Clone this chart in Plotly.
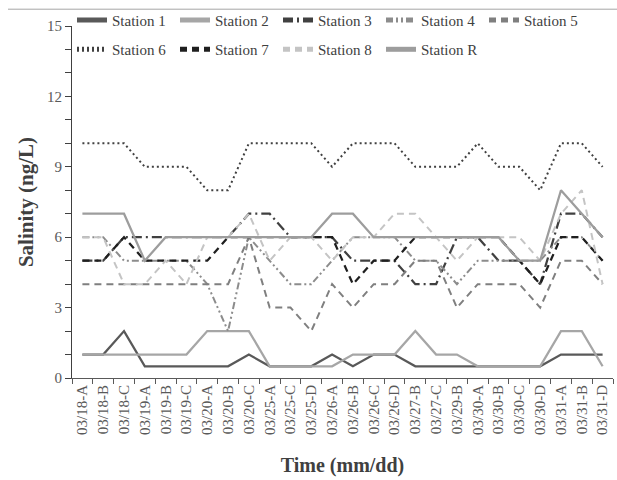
import plotly.graph_objects as go

# Sampling times (date + sample letter)
times = ["03/18-A", "03/18-B", "03/18-C", "03/19-A", "03/19-B", "03/19-C",
         "03/20-A", "03/20-B", "03/20-C", "03/25-A", "03/25-C", "03/25-D",
         "03/26-A", "03/26-B", "03/26-C", "03/26-D", "03/27-B", "03/27-C",
         "03/29-B", "03/30-A", "03/30-B", "03/30-C", "03/30-D", "03/31-A",
         "03/31-B", "03/31-D"]

# Salinity per station (ng/L)
station_1 = [1, 1, 2, 0.5, 0.5, 0.5, 0.5, 0.5, 1, 0.5, 0.5, 0.5, 1, 0.5, 1, 1,
             0.5, 0.5, 0.5, 0.5, 0.5, 0.5, 0.5, 1, 1, 1]
station_2 = [1, 1, 1, 1, 1, 1, 2, 2, 2, 0.5, 0.5, 0.5, 0.5, 1, 1, 1,
             2, 1, 1, 0.5, 0.5, 0.5, 0.5, 2, 2, 0.5]
station_3 = [5, 5, 6, 6, 6, 6, 6, 6, 7, 7, 6, 6, 6, 5, 5, 5,
             4, 4, 6, 6, 5, 5, 4, 7, 7, 6]
station_4 = [6, 6, 5, 5, 5, 5, 4, 2, 6, 5, 4, 4, 5, 6, 6, 6,
             5, 5, 4, 5, 5, 5, 5, 6, 6, 5]
station_5 = [4, 4, 4, 4, 4, 4, 4, 4, 6, 3, 3, 2, 4, 3, 4, 4,
             5, 5, 3, 4, 4, 4, 3, 5, 5, 4]
station_6 = [10, 10, 10, 9, 9, 9, 8, 8, 10, 10, 10, 10, 9, 10, 10, 10,
             9, 9, 9, 10, 9, 9, 8, 10, 10, 9]
station_7 = [5, 5, 6, 5, 5, 5, 5, 6, 6, 6, 6, 6, 6, 4, 5, 5,
             6, 6, 6, 6, 6, 5, 4, 6, 6, 5]
station_8 = [6, 6, 4, 4, 5, 4, 6, 6, 7, 5, 6, 6, 5, 6, 6, 7,
             7, 6, 5, 6, 6, 6, 5, 7, 8, 4]
station_r = [7, 7, 7, 5, 6, 6, 6, 6, 6, 6, 6, 6, 7, 7, 6, 6,
             6, 6, 6, 6, 6, 5, 5, 8, 7, 6]

y_ticks = [0, 3, 6, 9, 12, 15]

series = [
    ("Station 1", station_1, "#595959", "solid", 2.25, "legend"),
    ("Station 2", station_2, "#a6a6a6", "solid", 2.25, "legend"),
    ("Station 3", station_3, "#404040", "10px,4px,2px,4px", 2.25, "legend"),
    ("Station 4", station_4, "#8c8c8c", "7px,3px,2px,3px,2px,3px", 2.0, "legend"),
    ("Station 5", station_5, "#7f7f7f", "7px,5px", 2.0, "legend"),
    ("Station 6", station_6, "#404040", "2px,3px", 2.0, "legend2"),
    ("Station 7", station_7, "#1f1f1f", "7px,5px", 2.25, "legend2"),
    ("Station 8", station_8, "#c4c4c4", "7px,5px", 2.0, "legend2"),
    ("Station R", station_r, "#9d9d9d", "solid", 2.25, "legend2"),
]

fig = go.Figure()
for name, vals, color, dash, width, leg in series:
    fig.add_trace(go.Scatter(
        x=times, y=vals, name=name, mode="lines", legend=leg,
        line=dict(color=color, dash=dash, width=width),
    ))

serif = "Liberation Serif"
legend_style = dict(
    orientation="h", xanchor="left", yanchor="top",
    bgcolor="rgba(0,0,0,0)", borderwidth=0,
    font=dict(family=serif, size=15, color="#404040"),
    entrywidth=58, entrywidthmode="pixels",
    tracegroupgap=0, itemsizing="constant",
)

fig.update_layout(
    width=617, height=480,
    margin=dict(l=72, r=4, t=22, b=102),
    paper_bgcolor="white", plot_bgcolor="white",
    font=dict(family=serif, color="#595959"),
    showlegend=True,
    legend=dict(x=0.0, y=1.063, **legend_style),
    legend2=dict(x=0.0, y=0.98, **legend_style),
    xaxis=dict(
        type="category", tickson="boundaries",
        ticks="outside", ticklen=5, tickcolor="#595959",
        showline=True, linecolor="#595959", linewidth=1,
        showgrid=False, tickangle=-90,
        tickfont=dict(family=serif, size=15, color="#595959"),
        title=dict(text="<b>Time (mm/dd)</b>", standoff=23,
                   font=dict(family=serif, size=20, color="#404040")),
        range=[-0.5, len(times) - 0.5],
    ),
    yaxis=dict(
        range=[0, 15], tickvals=y_ticks,
        ticks="outside", ticklen=6, tickcolor="#404040",
        minor=dict(dtick=1, ticks="outside", ticklen=6, tickcolor="#404040"),
        showline=True, linecolor="#404040", linewidth=1,
        showgrid=False, zeroline=False,
        tickfont=dict(family=serif, size=15, color="#595959"),
        title=dict(text="<b>Salinity (ng/L)</b>", standoff=7,
                   font=dict(family=serif, size=21, color="#404040")),
    ),
)

# Thin frame line along the top of the chart area
fig.add_shape(type="line", xref="paper", yref="paper",
              x0=(8 - 72) / 541, x1=(617 - 72) / 541,
              y0=(378 - 5) / 356, y1=(378 - 5) / 356,
              line=dict(color="#a6a6a6", width=1))

fig.write_html("out.html")
